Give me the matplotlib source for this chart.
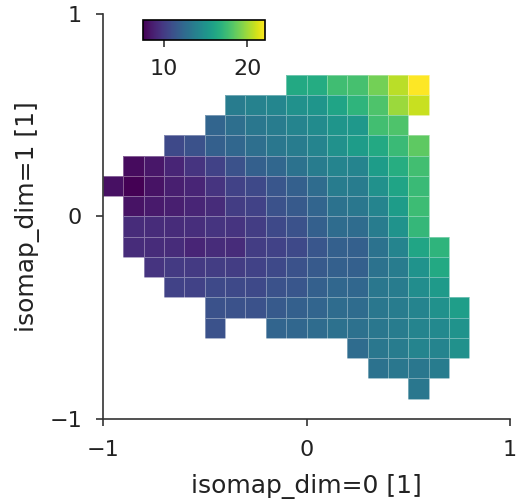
import numpy as np
import matplotlib
matplotlib.use("Agg")
import matplotlib.pyplot as plt

# mean value per isomap bin (rows from top y=1 down to y=-1, 20 bins per axis)
n = np.nan
values = np.array([
    [n] * 20,
    [n] * 20,
    [n] * 20,
    [n, n, n, n, n, n, n, n, n, 16.3, 16.5, 17.6, 17.8, 19.0, 20.6, 22.1, n, n, n, n],
    [n, n, n, n, n, n, 13.6, 13.9, 14.2, 14.8, 15.1, 16.0, 17.0, 18.0, 19.9, 20.9, n, n, n, n],
    [n, n, n, n, n, 12.2, 12.8, 13.3, 13.6, 14.1, 14.5, 15.1, 15.3, 17.7, 18.0, n, n, n, n, n],
    [n, n, n, 10.7, 11.2, 11.9, 12.3, 12.8, 13.3, 13.6, 14.1, 14.8, 15.5, 16.3, 17.4, 18.5, n, n, n, n],
    [n, 7.9, 8.4, 9.0, 9.7, 10.4, 11.2, 11.9, 12.3, 13.0, 13.6, 14.1, 14.1, 15.5, 16.6, 17.7, n, n, n, n],
    [8.1, 7.5, 8.2, 8.7, 9.0, 9.7, 10.4, 10.7, 11.4, 11.9, 12.6, 13.6, 13.6, 14.8, 16.0, 17.4, n, n, n, n],
    [n, 8.2, 8.5, 8.7, 9.0, 9.3, 10.1, 10.4, 11.2, 11.6, 12.2, 13.0, 13.3, 14.1, 15.5, 17.5, n, n, n, n],
    [n, 9.3, 9.3, 9.3, 9.4, 9.7, 9.7, 10.1, 10.7, 11.2, 11.9, 12.6, 12.6, 13.6, 15.0, 17.2, n, n, n, n],
    [n, 9.3, 9.3, 9.3, 9.0, 9.3, 9.3, 10.1, 10.4, 10.7, 11.4, 11.9, 11.9, 13.0, 14.1, 16.1, 17.0, n, n, n],
    [n, n, 9.7, 10.0, 10.0, 10.1, 10.1, 10.4, 10.7, 11.2, 11.6, 11.9, 11.9, 13.0, 13.6, 15.0, 16.3, n, n, n],
    [n, n, n, 10.4, 10.4, 10.7, 10.7, 10.7, 11.2, 11.4, 11.9, 12.3, 12.3, 13.3, 13.6, 14.6, 15.4, n, n, n],
    [n, n, n, n, n, 11.2, 11.2, 11.2, 11.6, 11.9, 12.2, 12.6, 12.6, 13.3, 13.6, 14.1, 14.8, 15.6, n, n],
    [n, n, n, n, n, 11.2, n, n, 12.2, 12.3, 12.6, 12.9, 12.9, 13.3, 13.6, 14.1, 14.4, 15.0, n, n],
    [n] * 12 + [12.6, 13.3, 13.6, 14.1, 14.1, 14.8] + [n] * 2,
    [n] * 13 + [13.0, 13.3, 13.3, 13.6] + [n] * 3,
    [n] * 15 + [13.3] + [n] * 4,
    [n] * 20,
])

x_edges = np.linspace(-1, 1, 21)
y_edges = np.linspace(1, -1, 21)
ticks = [-1, 0, 1]
cbar_ticks = [10, 20]

fig = plt.figure(figsize=(5.2, 5.01), dpi=100)
ax = fig.add_axes([0.198, 0.164, 0.783, 0.808])

mesh = ax.pcolormesh(x_edges, y_edges, np.ma.masked_invalid(values), cmap="viridis",
                     edgecolors=(1, 1, 1, 0.35), linewidth=0.6)

ax.set_xlim(-1, 1)
ax.set_ylim(-1, 1)
ax.set_xticks(ticks)
ax.set_yticks(ticks)
ax.tick_params(labelsize=16, length=5, width=1.2, pad=10, colors="#333333", labelcolor="#222222")
ax.set_xlabel("isomap_dim=0 [1]", fontsize=18, color="#222222", labelpad=10)
ax.set_ylabel("isomap_dim=1 [1]", fontsize=18, color="#222222", labelpad=7)
for side in ["top", "right"]:
    ax.spines[side].set_visible(False)
for side in ["left", "bottom"]:
    ax.spines[side].set_linewidth(1.2)
    ax.spines[side].set_color("#333333")

# small horizontal colorbar inside the top-left corner
cax = ax.inset_axes([0.098, 0.936, 0.30, 0.049])
cb = fig.colorbar(mesh, cax=cax, orientation="horizontal", ticks=cbar_ticks)
cb.outline.set_linewidth(1.2)
cax.tick_params(labelsize=16, length=5, width=1.2, pad=9, colors="#333333", labelcolor="#222222")

fig.savefig("out.png", dpi=100)
